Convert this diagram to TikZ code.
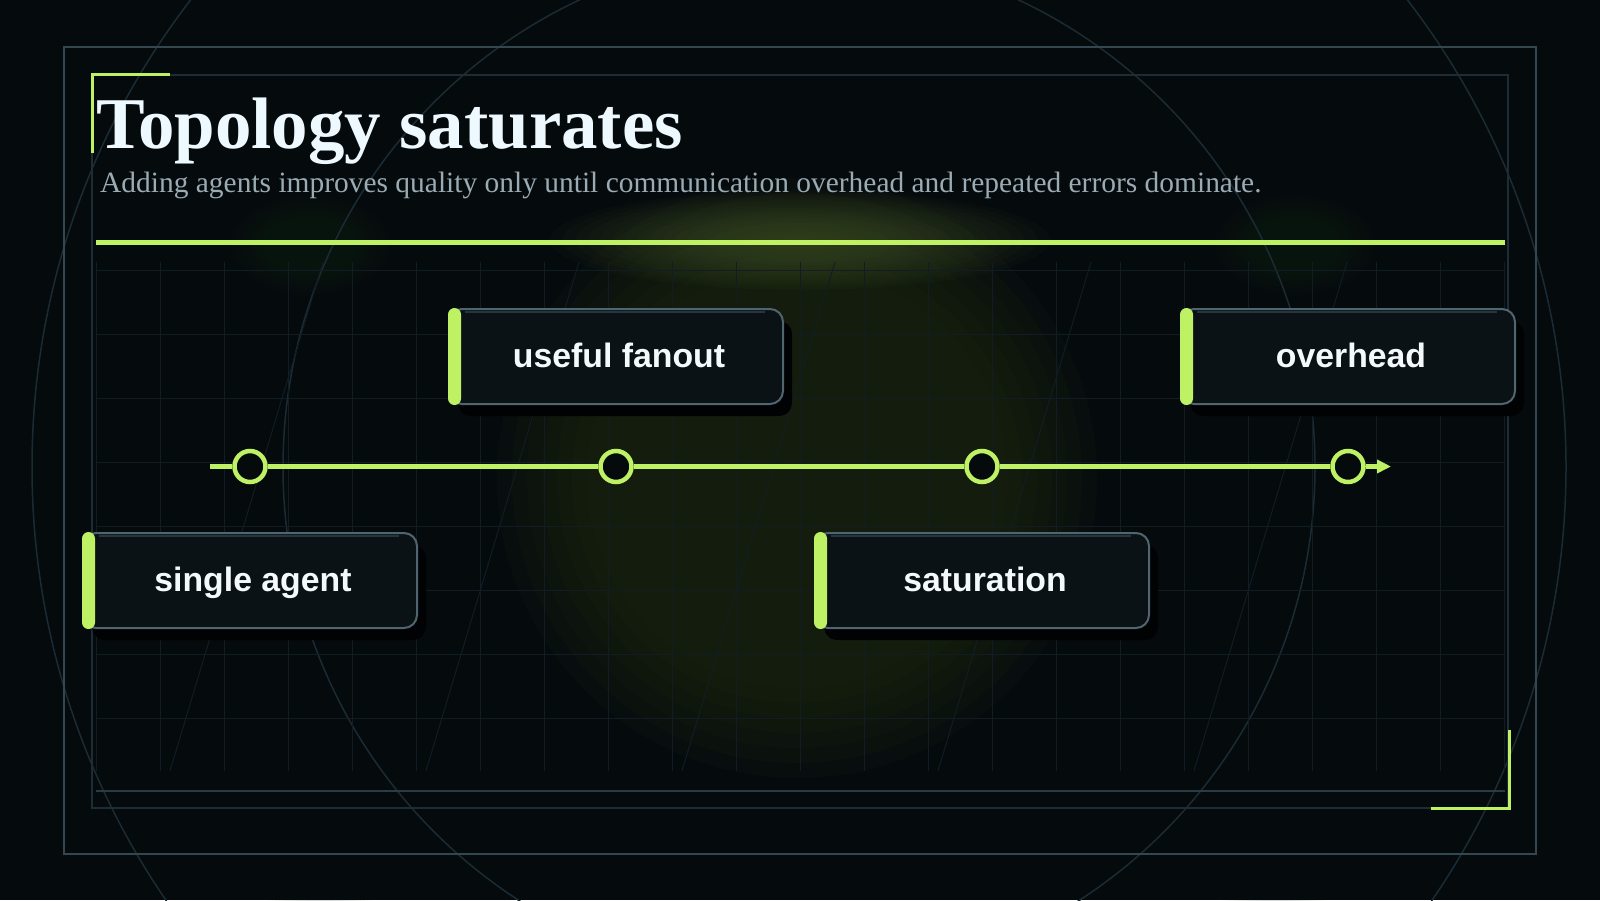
\documentclass[tikz,border=0pt]{standalone}
\usepackage{fontspec}
\setmainfont{Liberation Serif}
\newfontfamily\labelfont{Liberation Sans}
\usetikzlibrary{arrows.meta,shadows}

\definecolor{bgc}{HTML}{050A0D}
\definecolor{lime}{HTML}{BEF264}
\definecolor{frameA}{HTML}{34464F}
\definecolor{frameB}{HTML}{1E2D35}
\definecolor{frameC}{HTML}{2A3B44}
\definecolor{gridc}{HTML}{111D24}
\definecolor{arcc}{HTML}{1B2B34}
\definecolor{boxfill}{HTML}{0B1216}
\definecolor{boxdraw}{HTML}{50656F}
\definecolor{boxhl}{HTML}{26363E}
\definecolor{shadowc}{HTML}{010203}
\definecolor{titlec}{HTML}{EEF8FF}
\definecolor{subc}{HTML}{9AABB4}
\definecolor{labelc}{HTML}{F4F9FC}
\definecolor{glowbody}{HTML}{222D14}
\definecolor{glowtop}{HTML}{4A5B2C}
\definecolor{glowfaint}{HTML}{26321A}

% layered soft glow: colour, cx, cy, rx, ry, opacity per layer, first layer index (of 20)
\newcommand{\softglow}[7]{%
  \foreach \n in {#7,...,20}{%
    \fill[#1, opacity=#6] (#2,#3) ellipse ({#4*\n/20} and {#5*\n/20});
  }%
}

\tikzset{
  framebox/.style={line width=2pt},
  gridline/.style={draw=gridc, line width=1pt},
  arcline/.style={draw=arcc, line width=1.5pt},
  greencorner/.style={draw=lime, line width=3pt},
  labelbox/.style={draw=boxdraw, fill=boxfill, line width=2pt, rounded corners=13pt,
    minimum width=334pt, minimum height=95pt, inner sep=0pt,
    font=\labelfont\bfseries\fontsize{33.8}{40}\selectfont, text=labelc,
    text height=25pt, text depth=4pt,
    copy shadow={shadow xshift=9pt, shadow yshift=-12pt, fill=shadowc, draw=none}},
  greenbar/.style={fill=lime, rounded corners=6.5pt},
  highlight/.style={draw=boxhl, line width=1.5pt},
  stopdot/.style={circle, draw=lime, fill=bgc, line width=4.5pt, minimum size=31pt, inner sep=0pt},
  track/.style={draw=lime, line width=5.5pt}
}

\begin{document}
\begin{tikzpicture}[x=1pt,y=-1pt]
\fill[bgc] (0,0) rectangle (1600,900);
\useasboundingbox (0,0) rectangle (1600,900);

% glows
\softglow{glowbody}{797}{478}{300}{300}{0.12}{14}
\softglow{glowtop}{800}{240}{250}{50}{0.05}{1}
\softglow{glowfaint}{310}{245}{80}{50}{0.03}{1}
\softglow{glowfaint}{1295}{245}{80}{50}{0.03}{1}
\softglow{glowfaint}{610}{0}{90}{50}{0.025}{1}
\softglow{glowfaint}{1000}{0}{90}{50}{0.025}{1}
\softglow{glowfaint}{320}{840}{60}{120}{0.02}{1}
\softglow{glowfaint}{1275}{840}{60}{120}{0.02}{1}

% big arcs
\draw[arcline] (799,467) circle (767);
\draw[arcline] (799,467) circle (516);

% grid
\foreach \i in {0,...,22} \draw[gridline] ({96+64*\i},262) -- ({96+64*\i},771);
\foreach \j in {0,...,7} \draw[gridline] (96,{270+64*\j}) -- (1504,{270+64*\j});
\foreach \k in {0,...,4} \draw[gridline] ({323+256*\k},262) -- ({170+256*\k},771);

% frames
\draw[framebox, draw=frameA] (64,47) rectangle (1536,854);
\draw[framebox, draw=frameB] (92,75) rectangle (1508,808);
\draw[framebox, draw=frameC] (96,791) -- (1505,791);
\draw[greencorner] (92,153) -- (92,74) -- (170,74);
\draw[greencorner] (1509,730) -- (1509,808) -- (1431,808);

% header
\node[anchor=base west, inner sep=0pt, text=titlec, font=\bfseries\fontsize{72.9}{80}\selectfont] (title) at (96,148) {Topology saturates};
\node[anchor=base west, inner sep=0pt, text=subc, font=\fontsize{29.45}{34}\selectfont] (subtitle) at (100,192) {Adding agents improves quality only until communication overhead and repeated errors dominate.};
\draw[draw=lime, line width=5pt] (96,242.5) -- (1505,242.5);

% timeline
\coordinate (tstart) at (210,466.5);
\coordinate (tend) at (1391,466.5);
\node[stopdot] (s1) at (250,466.5) {};
\node[stopdot] (s2) at (616,466.5) {};
\node[stopdot] (s3) at (982,466.5) {};
\node[stopdot] (s4) at (1348,466.5) {};
\draw[track] (tstart) -- (s1);
\draw[track] (s1) -- (s2);
\draw[track] (s2) -- (s3);
\draw[track] (s3) -- (s4);
\draw[track, -{Triangle[length=14pt,width=13pt]}] (s4) -- (tend);

% boxes
\foreach \nm/\cx/\cy/\txt in {b1/250/580.5/single agent, b2/616/356.5/useful fanout, b3/982/580.5/saturation, b4/1348/356.5/overhead}{
  \node[labelbox] (\nm) at (\cx,\cy) {\hspace*{6pt}\txt};
  \draw[highlight] ([xshift=17pt,yshift=-4pt]\nm.north west) -- ([xshift=-19pt,yshift=-4pt]\nm.north east);
  \fill[greenbar] (\nm.north west) rectangle ([xshift=13pt]\nm.south west);
}
\end{tikzpicture}
\end{document}
